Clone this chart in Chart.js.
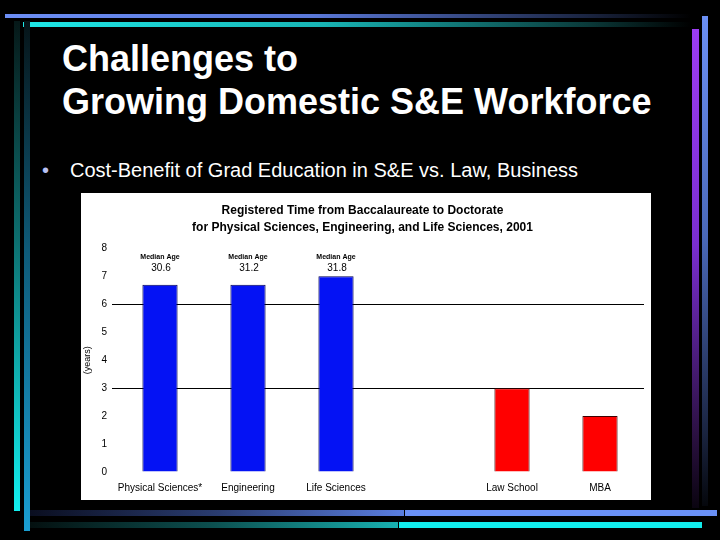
<!DOCTYPE html>
<html>
<head>
<meta charset="utf-8">
<script src="https://cdn.jsdelivr.net/npm/chart.js@4.4.1/dist/chart.umd.min.js"></script>
<style>
  html,body{margin:0;padding:0;background:#000;}
  body{width:720px;height:540px;overflow:hidden;position:relative;font-family:"Liberation Sans",Arial,sans-serif;}
  .d{position:absolute;}
  .t{position:absolute;color:#fff;white-space:nowrap;}
  #box{position:absolute;left:81px;top:193px;width:570px;height:307px;background:#fff;}
</style>
</head>
<body>
<!-- decorative frame -->
<div class="d" style="left:5px;top:14px;width:686px;height:4px;background:linear-gradient(to right,#6c8ef5 0%,#5a78d8 45%,#1a2440 85%,#000 100%);"></div>
<div class="d" style="left:23px;top:22px;width:668px;height:5px;background:linear-gradient(to right,#1ee8e8 0%,#18b4b4 45%,#0a3838 85%,#000 100%);"></div>
<div class="d" style="left:14px;top:21px;width:6px;height:490px;background:linear-gradient(to bottom,#061818 0%,#0d7070 45%,#12f0f0 100%);"></div>
<div class="d" style="left:24px;top:21px;width:6px;height:510px;background:linear-gradient(to bottom,#061418 0%,#0e5a78 45%,#1a9ed2 100%);"></div>
<div class="d" style="left:30px;top:510px;width:374px;height:6px;background:linear-gradient(to right,#0a0e20 0%,#2a3c70 50%,#5a7ee0 100%);"></div>
<div class="d" style="left:405px;top:510px;width:312px;height:6px;background:#6a90f5;"></div>
<div class="d" style="left:30px;top:522px;width:368px;height:6px;background:linear-gradient(to right,#041010 0%,#0c5050 50%,#18b0b0 100%);"></div>
<div class="d" style="left:399px;top:522px;width:303px;height:6px;background:#12ecec;"></div>
<div class="d" style="left:692px;top:29px;width:7px;height:479px;background:linear-gradient(to bottom,#9c3cf2 0%,#7a2ed0 45%,#2a1040 85%,#0a0410 100%);"></div>
<div class="d" style="left:702px;top:16px;width:6px;height:490px;background:linear-gradient(to bottom,#6c90f5 0%,#4a68b8 45%,#1a2440 85%,#05070c 100%);"></div>

<div class="t" style="left:62px;top:41px;font-size:36px;line-height:36px;font-weight:bold;">Challenges to</div>
<div class="t" style="left:62px;top:84px;font-size:36px;line-height:36px;font-weight:bold;">Growing Domestic S&amp;E Workforce</div>
<div class="t" style="left:42px;top:160px;font-size:20px;line-height:20px;color:#b8c0f4;">•</div>
<div class="t" style="left:70px;top:160px;font-size:20px;line-height:20px;">Cost-Benefit of Grad Education in S&amp;E vs. Law, Business</div>

<div id="box"><canvas id="c" width="570" height="307"></canvas></div>

<script>
const categories = ['Physical Sciences*', 'Engineering', 'Life Sciences', '', 'Law School', 'MBA'];
const scienceYears = [6.7, 6.7, 7.0, null, null, null];
const professionalYears = [null, null, null, null, 3.0, 2.0];
const medianAges = ['30.6', '31.2', '31.8', null, null, null];
const medianLabel = 'Median Age';
const chartTitle = ['Registered Time from Baccalaureate to Doctorate',
                    'for Physical Sciences, Engineering, and Life Sciences, 2001'];
const yTitle = '(years)';
const yMin = 0, yMax = 8, yStep = 1;
const gridValues = [3, 6];

const FONT = '"Liberation Sans", Arial, sans-serif';

const medianPlugin = {
  id: 'medianAges',
  afterDatasetsDraw(chart) {
    const ctx = chart.ctx;
    const xs = chart.scales.x, ys = chart.scales.y;
    ctx.save();
    ctx.fillStyle = '#000';
    ctx.textAlign = 'center';
    ctx.textBaseline = 'middle';
    medianAges.forEach((m, i) => {
      if (m == null) return;
      const x = xs.getPixelForValue(i);
      ctx.font = 'bold 7px ' + FONT;
      ctx.fillText(medianLabel, x, ys.getPixelForValue(7.69));
      ctx.font = '10px ' + FONT;
      ctx.fillText(m, x + 1, ys.getPixelForValue(7.3));
    });
    ctx.restore();
  }
};

new Chart(document.getElementById('c'), {
  type: 'bar',
  data: {
    labels: categories,
    datasets: [
      { data: scienceYears, backgroundColor: '#0412f4', borderColor: '#000050', borderWidth: 1, grouped: false },
      { data: professionalYears, backgroundColor: '#ff0000', borderColor: '#400000', borderWidth: 1, grouped: false }
    ]
  },
  options: {
    responsive: false,
    animation: false,
    events: [],
    layout: { padding: { left: 0, right: 7, top: 0, bottom: 0 } },
    datasets: { bar: { barPercentage: 0.4, categoryPercentage: 1.0 } },
    plugins: {
      legend: { display: false },
      tooltip: { enabled: false },
      title: {
        display: true,
        text: chartTitle,
        color: '#000',
        font: { family: FONT, size: 12, weight: 'bold', lineHeight: 1.35 },
        padding: { top: 10, bottom: 13 }
      }
    },
    scales: {
      x: {
        grid: { display: false },
        border: { display: false },
        ticks: { color: '#000', font: { family: FONT, size: 10 }, padding: 2, maxRotation: 0, autoSkip: false },
        afterFit(s) { s.height = 28; }
      },
      y: {
        min: yMin, max: yMax,
        border: { display: false },
        grid: {
          color: c => gridValues.includes(c.tick && c.tick.value) ? '#000' : 'rgba(0,0,0,0)',
          lineWidth: 1,
          drawTicks: true,
          tickLength: 4
        },
        ticks: { stepSize: yStep, color: '#000', font: { family: FONT, size: 10 }, padding: 5 },
        title: { display: true, text: yTitle, color: '#000', font: { family: FONT, size: 9 }, padding: { top: 1, bottom: 0 } },
        afterFit(s) { s.width = 35; }
      }
    }
  },
  plugins: [medianPlugin]
});
</script>
</body>
</html>
